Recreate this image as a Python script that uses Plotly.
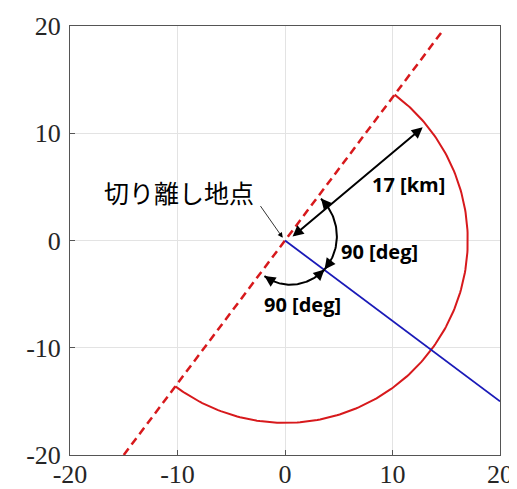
import numpy as np
import plotly.graph_objects as go

# ---- data ----
sep_point = [0.0, 0.0]                 # 切り離し地点
radius_km = 17.0
blue_x = [0.0, 20.0]
blue_y = [0.0, -15.0]
dash_x = [-15.0, 14.7]
dash_y = [-20.0, 19.6]
arc_start_deg = 53.13
arc_end_deg = -126.87
tick_vals = [-20, -10, 0, 10, 20]
tick_text = ["-20", "-10", "0", "10", "20"]

RED = "#d7191c"
BLUE = "#1a1ab8"

fig = go.Figure()

fig.add_trace(go.Scatter(x=dash_x, y=dash_y, mode="lines",
                         line=dict(color=RED, width=2.5, dash="8px,5px"),
                         showlegend=False, hoverinfo="skip"))
th = np.radians(np.linspace(arc_start_deg, arc_end_deg, 200))
fig.add_trace(go.Scatter(x=radius_km*np.cos(th), y=radius_km*np.sin(th), mode="lines",
                         line=dict(color=RED, width=2),
                         showlegend=False, hoverinfo="skip"))
fig.add_trace(go.Scatter(x=blue_x, y=blue_y, mode="lines",
                         line=dict(color=BLUE, width=1.8),
                         showlegend=False, hoverinfo="skip"))

def arc_pts(a0, a1, r0, r1, n=60):
    t = np.linspace(0, 1, n)
    a = np.radians(a0 + (a1 - a0)*t)
    r = r0 + (r1 - r0)*t
    return r*np.cos(a), r*np.sin(a)

arcs = [(49.4, -36.3, 5.15, 4.56), (-120.0, -36.3, 3.83, 4.56)]
for a0, a1, r0, r1 in arcs:
    ax_, ay_ = arc_pts(a0, a1, r0, r1)
    fig.add_trace(go.Scatter(x=ax_, y=ay_, mode="lines",
                             line=dict(color="black", width=2),
                             showlegend=False, hoverinfo="skip"))
    for (i_head, i_tail) in [(0, 6), (-1, -7)]:
        fig.add_annotation(x=ax_[i_head], y=ay_[i_head], ax=ax_[i_tail], ay=ay_[i_tail],
                           xref="x", yref="y", axref="x", ayref="y", text="",
                           showarrow=True, arrowhead=2, arrowsize=1.1, arrowwidth=2,
                           arrowcolor="black", standoff=0)

fig.add_annotation(x=12.81, y=10.55, ax=0.56, ay=0.25, xref="x", yref="y",
                   axref="x", ayref="y", text="", showarrow=True, arrowhead=2,
                   startarrowhead=2, arrowside="end+start", arrowsize=1.1,
                   startarrowsize=1.1, arrowwidth=2, arrowcolor="black",
                   standoff=0, startstandoff=0)

label_font = dict(family="Open Sans, Lato, sans-serif", size=20, color="black")
fig.add_annotation(x=11.49, y=5.21, xref="x", yref="y", text="<b>17 [km]</b>",
                   showarrow=False, font=label_font)
fig.add_annotation(x=8.78, y=-1.05, xref="x", yref="y", text="<b>90 [deg]</b>",
                   showarrow=False, font=label_font)
fig.add_annotation(x=1.65, y=-5.95, xref="x", yref="y", text="<b>90 [deg]</b>",
                   showarrow=False, font=label_font)

fig.add_annotation(x=-9.82, y=4.51, xref="x", yref="y", text="切り離し地点",
                   showarrow=False,
                   font=dict(family="Noto Sans CJK JP", size=25, color="black"))
fig.add_annotation(x=-0.21, y=0.25, ax=-2.38, ay=3.35, xref="x", yref="y",
                   axref="x", ayref="y", text="", showarrow=True, arrowhead=2,
                   arrowsize=1.3, arrowwidth=0.8, arrowcolor="black", standoff=0)

axis_common = dict(range=[-20, 20], tickvals=tick_vals, ticktext=tick_text,
                   showgrid=True, gridcolor="#e3e3e3", gridwidth=1,
                   zeroline=False, showline=True, linecolor="#555555", linewidth=1,
                   mirror=True, ticks="inside", ticklen=5, tickcolor="#555555",
                   automargin=False,
                   tickfont=dict(family="Liberation Serif, Times New Roman, serif",
                                 size=26, color="#262626"))
fig.update_xaxes(**axis_common, ticklabelstandoff=-4)
fig.update_yaxes(**axis_common, ticklabelstandoff=3)

fig.update_layout(width=517, height=489,
                  margin=dict(l=62, r=25, t=18, b=42),
                  plot_bgcolor="white", paper_bgcolor="white")

fig.write_html("out.html")
